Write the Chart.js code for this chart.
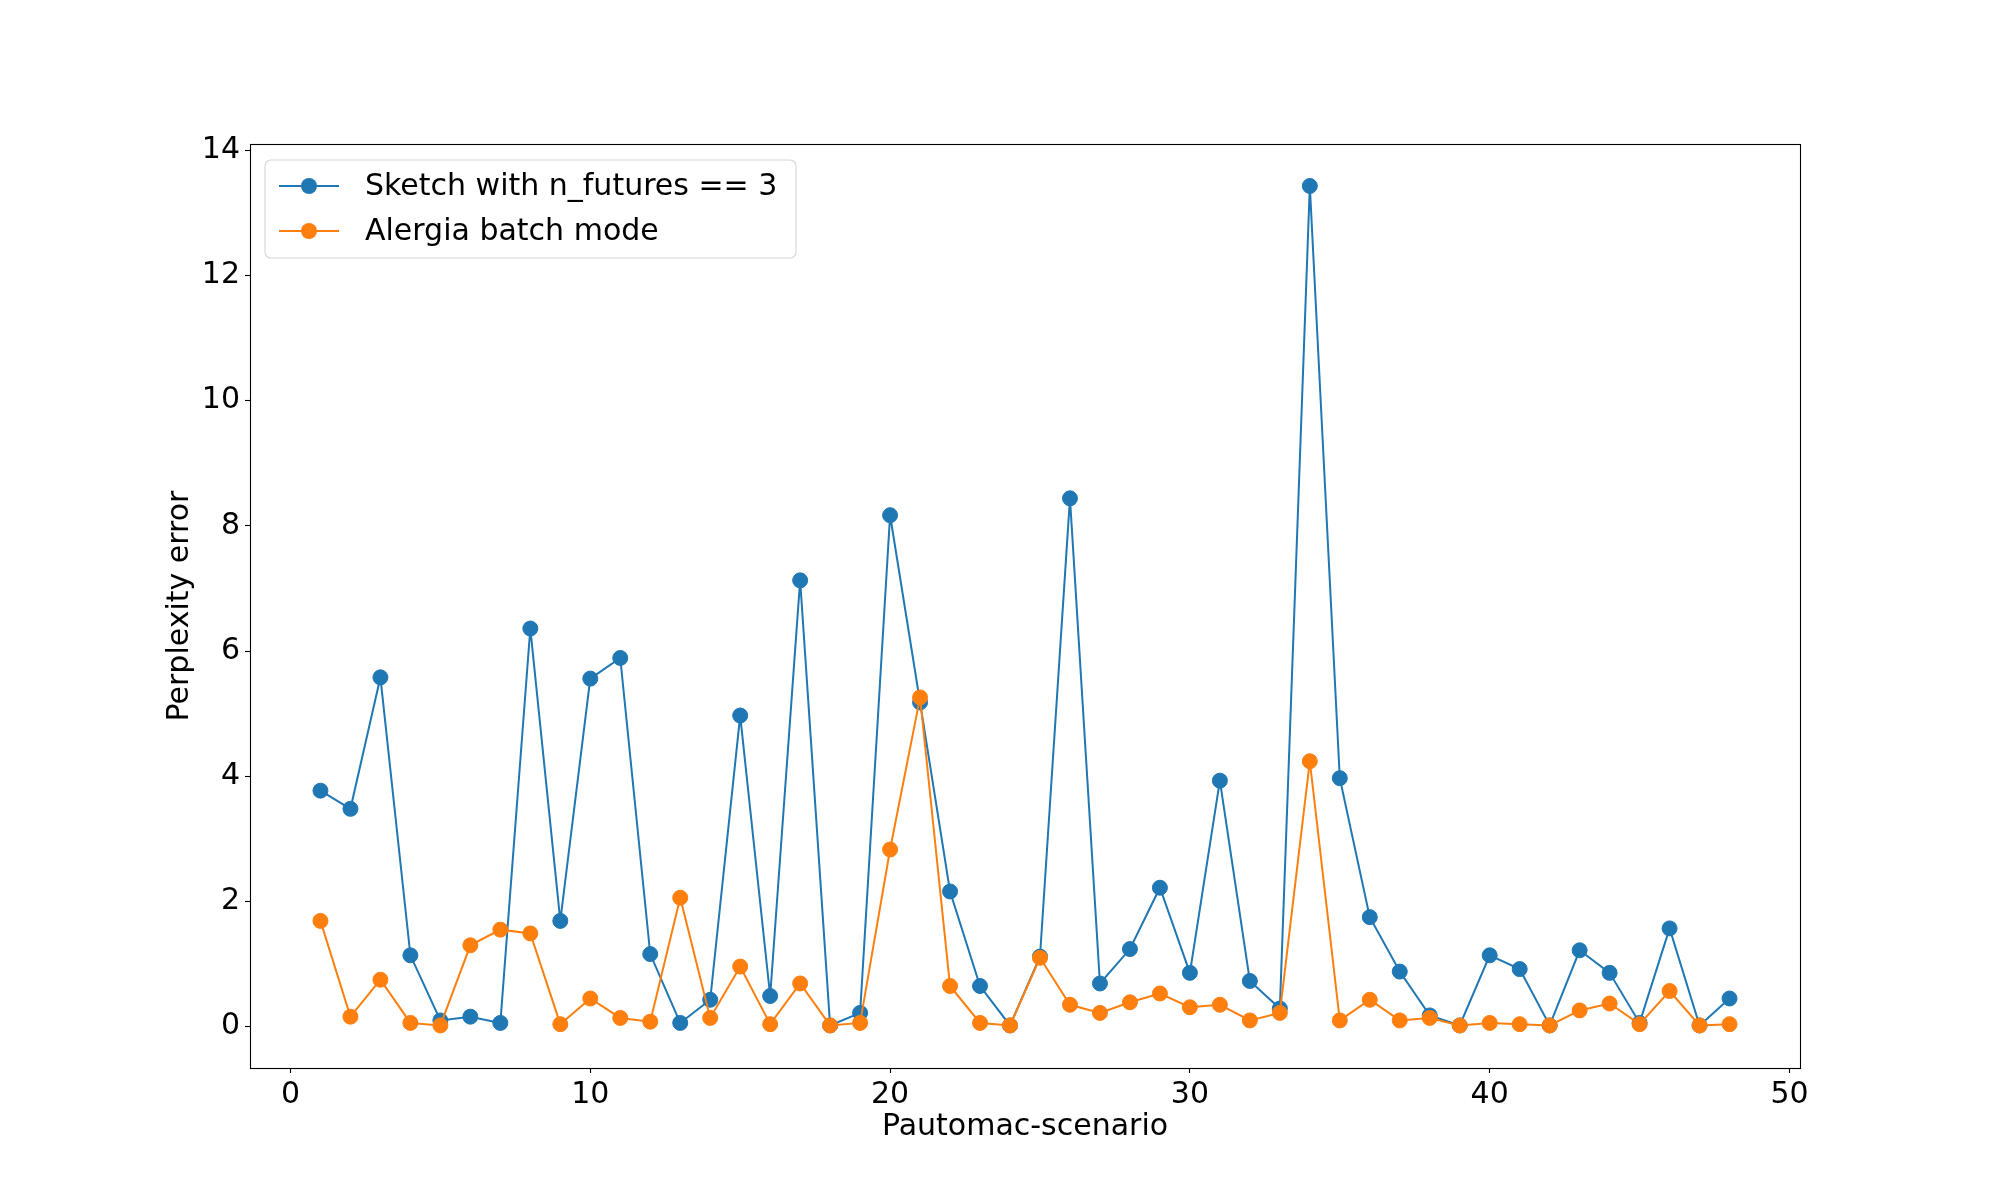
<!DOCTYPE html>
<html>
<head>
<meta charset="utf-8">
<script src="https://cdn.jsdelivr.net/npm/chart.js@4.4.1/dist/chart.umd.min.js"></script>
<style>
  body { margin: 0; background: #ffffff; }
  canvas { display: block; }
</style>
</head>
<body>
<canvas id="grafico" width="2000" height="1200"></canvas>
<script>
const scenarios = [1, 2, 3, 4, 5, 6, 7, 8, 9, 10, 11, 12, 13, 14, 15, 16, 17, 18, 19, 20, 21, 22, 23, 24,
  25, 26, 27, 28, 29, 30, 31, 32, 33, 34, 35, 36, 37, 38, 39, 40, 41, 42, 43, 44, 45, 46, 47, 48];

const sketchError = [3.77, 3.48, 5.58, 1.14, 0.10, 0.16, 0.06, 6.36, 1.69, 5.56, 5.89, 1.16,
  0.06, 0.43, 4.97, 0.49, 7.13, 0.02, 0.22, 8.17, 5.18, 2.16, 0.65, 0.02,
  1.12, 8.44, 0.69, 1.24, 2.22, 0.86, 3.93, 0.73, 0.29, 13.43, 3.97, 1.75,
  0.88, 0.18, 0.02, 1.14, 0.92, 0.02, 1.22, 0.86, 0.06, 1.57, 0.02, 0.45];

const alergiaError = [1.69, 0.16, 0.75, 0.06, 0.02, 1.30, 1.55, 1.49, 0.04, 0.45, 0.14, 0.08,
  2.06, 0.14, 0.96, 0.04, 0.69, 0.02, 0.06, 2.83, 5.26, 0.65, 0.06, 0.02,
  1.10, 0.35, 0.22, 0.39, 0.53, 0.31, 0.35, 0.10, 0.22, 4.24, 0.10, 0.43,
  0.10, 0.14, 0.02, 0.06, 0.04, 0.02, 0.26, 0.37, 0.04, 0.57, 0.02, 0.04];

const xTicks = [0, 10, 20, 30, 40, 50];
const yTicks = [0, 2, 4, 6, 8, 10, 12, 14];

const seriesNames = ['Sketch with n_futures == 3', 'Alergia batch mode'];
const FONT = 'DejaVu Sans';
const FONT_SIZE = 30;

function toPoints(values) {
  return scenarios.map(function (s, i) { return { x: s, y: values[i] }; });
}

// frame, legend and axis titles drawn like matplotlib
const extras = {
  id: 'extras',
  afterDraw: function (chart) {
    const c = chart.ctx;
    const a = chart.chartArea;
    c.save();
    c.strokeStyle = '#000000';
    c.lineWidth = 1.1;
    c.strokeRect(Math.round(a.left) + 0.5, Math.round(a.top) + 0.5,
      Math.round(a.right - a.left), Math.round(a.bottom - a.top));

    // legend
    const bx = 265, by = 160, bw = 531, bh = 98, r = 6;
    c.beginPath();
    c.moveTo(bx + r, by);
    c.arcTo(bx + bw, by, bx + bw, by + bh, r);
    c.arcTo(bx + bw, by + bh, bx, by + bh, r);
    c.arcTo(bx, by + bh, bx, by, r);
    c.arcTo(bx, by, bx + bw, by, r);
    c.closePath();
    c.fillStyle = 'rgba(255,255,255,0.8)';
    c.fill();
    c.strokeStyle = '#d6d6d6';
    c.lineWidth = 1.1;
    c.stroke();

    chart.data.datasets.forEach(function (ds, i) {
      const yy = 186 + i * 45;
      c.strokeStyle = ds.borderColor;
      c.lineWidth = 2;
      c.beginPath();
      c.moveTo(279, yy);
      c.lineTo(339, yy);
      c.stroke();
      c.fillStyle = ds.backgroundColor;
      c.beginPath();
      c.arc(309, yy, 8, 0, Math.PI * 2);
      c.fill();
      c.fillStyle = '#000000';
      c.font = FONT_SIZE + 'px "' + FONT + '"';
      c.textAlign = 'left';
      c.textBaseline = 'middle';
      c.fillText(ds.label, 365, yy + 1);
    });

    // axis titles
    c.fillStyle = '#000000';
    c.font = FONT_SIZE + 'px "' + FONT + '"';
    c.textAlign = 'center';
    c.textBaseline = 'top';
    c.fillText('Pautomac-scenario', (a.left + a.right) / 2, 1112);
    c.translate(180, (a.top + a.bottom) / 2);
    c.rotate(-Math.PI / 2);
    c.textBaseline = 'middle';
    c.fillText('Perplexity error', 0, 0);
    c.restore();
  }
};

const ctx = document.getElementById('grafico').getContext('2d');
const grafico = new Chart(ctx, {
  type: 'line',
  data: {
    datasets: [{
      label: seriesNames[0],
      data: toPoints(sketchError),
      borderColor: '#1f77b4',
      backgroundColor: '#1f77b4',
      borderWidth: 2,
      pointRadius: 7.5,
      pointBorderWidth: 1,
      pointHoverRadius: 7.5,
      tension: 0,
      order: 2
    }, {
      label: seriesNames[1],
      data: toPoints(alergiaError),
      borderColor: '#ff7f0e',
      backgroundColor: '#ff7f0e',
      borderWidth: 2,
      pointRadius: 7.5,
      pointBorderWidth: 1,
      pointHoverRadius: 7.5,
      tension: 0,
      order: 1
    }]
  },
  options: {
    responsive: false,
    devicePixelRatio: 1,
    animation: false,
    layout: { padding: { left: 0, top: 144, right: 200, bottom: 0 } },
    plugins: {
      legend: { display: false },
      tooltip: { enabled: false }
    },
    scales: {
      x: {
        type: 'linear',
        min: -1.35,
        max: 50.35,
        afterBuildTicks: function (scale) {
          scale.ticks = xTicks.map(function (v) { return { value: v }; });
        },
        afterFit: function (scale) { scale.height = 132; },
        grid: { display: true, drawOnChartArea: false, drawTicks: true, tickLength: 5, tickColor: '#000000', tickWidth: 1.1 },
        border: { display: false },
        ticks: { color: '#000000', padding: 4, maxRotation: 0, autoSkip: false, font: { family: FONT, size: FONT_SIZE } }
      },
      y: {
        min: -0.66,
        max: 14.1,
        afterBuildTicks: function (scale) {
          scale.ticks = yTicks.map(function (v) { return { value: v }; });
        },
        afterFit: function (scale) { scale.width = 250; },
        grid: { display: true, drawOnChartArea: false, drawTicks: true, tickLength: 5, tickColor: '#000000', tickWidth: 1.1 },
        border: { display: false },
        ticks: { color: '#000000', padding: 5, autoSkip: false, font: { family: FONT, size: FONT_SIZE } }
      }
    }
  },
  plugins: [extras]
});
</script>
</body>
</html>
